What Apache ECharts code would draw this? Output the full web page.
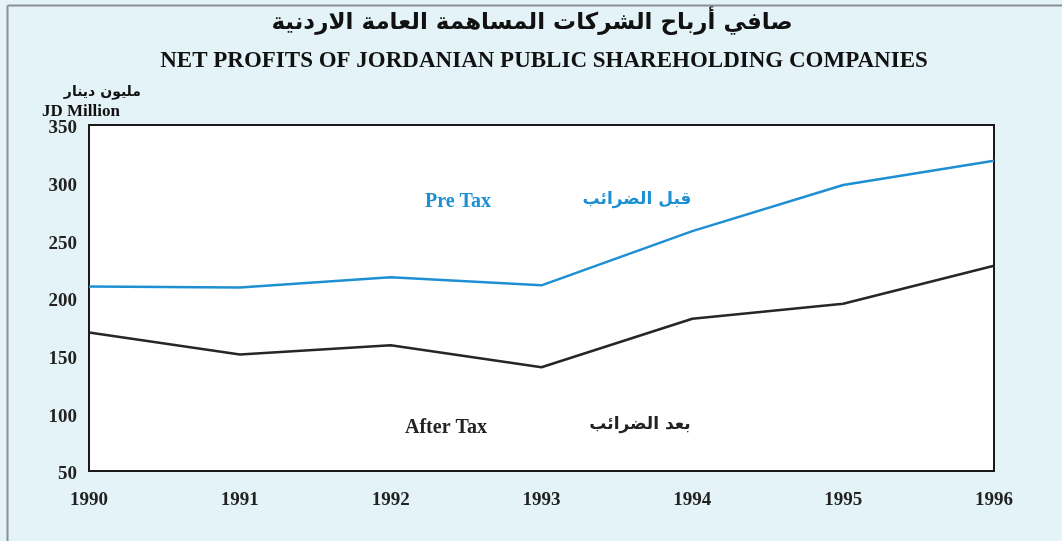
<!DOCTYPE html>
<html>
<head>
<meta charset="utf-8">
<script src="https://cdn.jsdelivr.net/npm/echarts@6/dist/echarts.min.js"></script>
<style>
html,body{margin:0;padding:0;background:#e4f3f7;}
#chart{width:1062px;height:541px;}
</style>
</head>
<body>
<div id="chart"></div>
<script>
var years = ['1990','1991','1992','1993','1994','1995','1996'];
var preTax = [210, 209, 218, 211, 258, 298, 319];
var afterTax = [170, 151, 159, 140, 182, 195, 228];
var yTicks = {min: 50, max: 350, interval: 50};

var serif = 'Liberation Serif';
var chart = echarts.init(document.getElementById('chart'));
chart.setOption({
  backgroundColor: '#e4f3f7',
  animation: false,
  grid: {left: 89, right: 68, top: 125, bottom: 70, show: true, backgroundColor: '#ffffff', borderColor: '#1a1a1a', borderWidth: 2},
  xAxis: {
    type: 'category', data: years, boundaryGap: false,
    axisLine: {show: false}, axisTick: {show: false},
    axisLabel: {color: '#222', fontFamily: serif, fontWeight: 'bold', fontSize: 19, margin: 20}
  },
  yAxis: {
    type: 'value', min: yTicks.min, max: yTicks.max, interval: yTicks.interval,
    axisLine: {show: false}, axisTick: {show: false}, splitLine: {show: false},
    axisLabel: {color: '#222', fontFamily: serif, fontWeight: 'bold', fontSize: 19, margin: 12, verticalAlign: 'top', padding: [-6,0,0,0]}
  },
  series: [
    {name: 'Pre Tax', type: 'line', data: preTax, symbol: 'none', lineStyle: {color: '#1e8fd3', width: 2.5}},
    {name: 'After Tax', type: 'line', data: afterTax, symbol: 'none', lineStyle: {color: '#262626', width: 2.5}}
  ],
  graphic: [
    {type: 'line', shape: {x1: 7.5, y1: 5.5, x2: 1062, y2: 5.5}, style: {stroke: '#8a9093', lineWidth: 2}, z: 10},
    {type: 'line', shape: {x1: 7.5, y1: 5.5, x2: 7.5, y2: 541}, style: {stroke: '#8a9093', lineWidth: 2}, z: 10},
    {type: 'text', x: 532, y: 23, style: {text: 'صافي أرباح الشركات المساهمة العامة الاردنية', font: 'bold 23px "DejaVu Sans"', fill: '#111', align: 'center', verticalAlign: 'middle'}},
    {type: 'text', x: 544, y: 61, style: {text: 'NET PROFITS OF JORDANIAN PUBLIC SHAREHOLDING COMPANIES', font: 'bold 23px "Liberation Serif"', fill: '#111', align: 'center', verticalAlign: 'middle'}},
    {type: 'text', x: 141, y: 92, style: {text: 'مليون دينار', font: 'bold 14px "DejaVu Sans"', fill: '#111', align: 'right', verticalAlign: 'middle'}},
    {type: 'text', x: 42, y: 112, style: {text: 'JD Million', font: 'bold 17px "Liberation Serif"', fill: '#111', align: 'left', verticalAlign: 'middle'}},
    {type: 'text', x: 458, y: 202, style: {text: 'Pre Tax', font: 'bold 20px "Liberation Serif"', fill: '#1e8fd3', align: 'center', verticalAlign: 'middle'}, z: 20},
    {type: 'text', x: 637, y: 200, style: {text: 'قبل الضرائب', font: 'bold 17px "DejaVu Sans"', fill: '#1e8fd3', align: 'center', verticalAlign: 'middle'}, z: 20},
    {type: 'text', x: 446, y: 428, style: {text: 'After Tax', font: 'bold 20px "Liberation Serif"', fill: '#222', align: 'center', verticalAlign: 'middle'}, z: 20},
    {type: 'text', x: 640, y: 425, style: {text: 'بعد الضرائب', font: 'bold 17px "DejaVu Sans"', fill: '#222', align: 'center', verticalAlign: 'middle'}, z: 20}
  ]
});
</script>
</body>
</html>
